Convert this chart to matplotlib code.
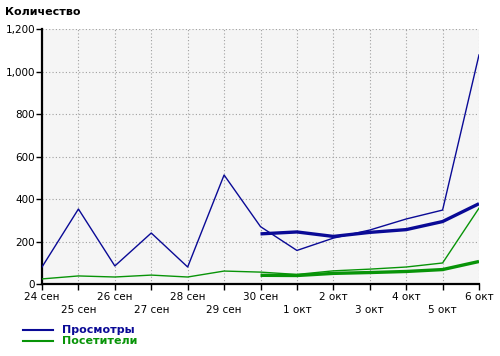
import matplotlib
matplotlib.use("Agg")
import matplotlib.pyplot as plt
from matplotlib.ticker import FuncFormatter

dates = ["24 сен", "25 сен", "26 сен", "27 сен", "28 сен", "29 сен", "30 сен",
         "1 окт", "2 окт", "3 окт", "4 окт", "5 окт", "6 окт"]
views = [80, 353, 85, 240, 80, 513, 270, 158, 216, 254, 306, 348, 1078]
visitors = [24, 38, 33, 42, 33, 61, 56, 45, 62, 70, 80, 99, 357]
views_trend = [236, 245, 224, 243, 256, 294, 378]
visitors_trend = [41, 40, 50, 54, 59, 68, 106]
trend_start = 6
yticks = [0, 200, 400, 600, 800, 1000, 1200]

blue = "#0a0a96"
green = "#089408"

fig = plt.figure(figsize=(5, 3.56), dpi=100)
ax = fig.add_axes([0.084, 0.2022, 0.874, 0.7163])
ax.set_facecolor("#f5f5f5")

x = list(range(len(dates)))
xt = list(range(trend_start, trend_start + len(views_trend)))
ax.plot(x, views, color=blue, lw=1.0, zorder=3)
ax.plot(x, visitors, color=green, lw=1.0, zorder=3)
ax.plot(xt, views_trend, color=blue, lw=2.4, zorder=4, solid_capstyle="butt")
ax.plot(xt, visitors_trend, color=green, lw=2.4, zorder=4, solid_capstyle="butt")

ax.set_xlim(0, len(dates) - 1)
ax.set_ylim(0, 1200)
ax.set_yticks(yticks)
ax.yaxis.set_major_formatter(FuncFormatter(lambda v, p: f"{int(v):,}"))
ax.set_xticks(x)
labels = [d if i % 2 == 0 else "\n" + d for i, d in enumerate(dates)]
ax.set_xticklabels(labels, fontsize=7.5, linespacing=1.35)
ax.tick_params(axis="y", labelsize=7.5, length=4, width=1, direction="out", pad=1)
ax.tick_params(axis="x", length=4, width=1, direction="out", pad=2)

ax.grid(True, color="#a0a0a0", ls=(0, (1, 2)), lw=0.8)
for s in ["top", "right"]:
    ax.spines[s].set_visible(False)
ax.spines["left"].set_linewidth(1.6)
ax.spines["bottom"].set_linewidth(1.6)

fig.text(0.01, 0.965, "Количество", fontsize=8, fontweight="bold", va="center", ha="left")

# legend
fig.add_artist(plt.Line2D([0.046, 0.106], [0.073, 0.073], color=blue, lw=1.5))
fig.add_artist(plt.Line2D([0.046, 0.106], [0.042, 0.042], color=green, lw=1.5))
fig.text(0.124, 0.073, "Просмотры", color=blue, fontsize=8, fontweight="bold", va="center")
fig.text(0.124, 0.042, "Посетители", color=green, fontsize=8, fontweight="bold", va="center")

fig.savefig("out.png", dpi=100)
